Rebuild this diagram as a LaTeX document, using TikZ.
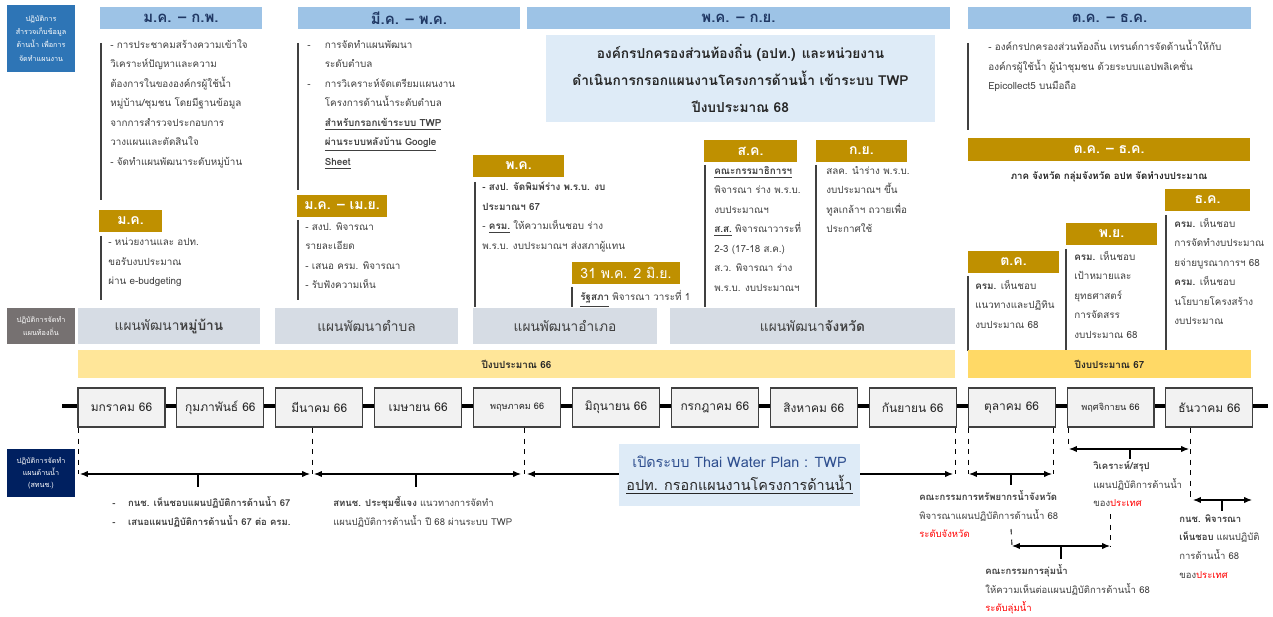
\documentclass[tikz,border=0pt]{standalone}
\usepackage{fontspec}
\setmainfont[Script=Thai]{Loma}
\usetikzlibrary{arrows.meta}

\definecolor{hdrblue}{HTML}{9DC3E6}
\definecolor{hdrtext}{HTML}{203864}
\definecolor{goldc}{HTML}{BF9000}
\definecolor{descbg}{HTML}{DEEBF7}
\definecolor{planbg}{HTML}{D6DCE4}
\definecolor{yelA}{HTML}{FFE699}
\definecolor{yelB}{HTML}{FFD966}
\definecolor{monthbg}{HTML}{F2F2F2}
\definecolor{monthline}{HTML}{404040}
\definecolor{labA}{HTML}{2E75B6}
\definecolor{labB}{HTML}{767171}
\definecolor{labC}{HTML}{002060}
\definecolor{bodytxt}{HTML}{404040}
\definecolor{darktxt}{HTML}{262626}
\definecolor{twpblue}{HTML}{2F4F8F}

\tikzset{
	hdr/.style={fill=hdrblue,text=hdrtext,inner sep=0,minimum height=0.44cm,font=\bfseries\fontsize{8.5}{10}\selectfont},
	goldhdr/.style={fill=goldc,text=white,inner sep=0,minimum height=0.44cm,font=\bfseries\fontsize{8}{10}\selectfont},
	body/.style={anchor=north west,align=left,inner sep=0,text=bodytxt,font=\fontsize{5.6}{11.1}\selectfont,execute at begin node=\strut},
	foot/.style={anchor=north west,align=left,inner sep=0,text=bodytxt,font=\fontsize{5.4}{10.6}\selectfont,execute at begin node=\strut},
	vbar/.style={draw=monthline,line width=0.7pt},
	plan/.style={fill=planbg,text=bodytxt,inner sep=0,minimum height=0.72cm,font=\fontsize{7.8}{10}\selectfont},
	yearbar/.style={inner sep=0,minimum height=0.56cm,text=darktxt,font=\bfseries\fontsize{5.6}{8}\selectfont},
	month/.style={draw=monthline,fill=monthbg,line width=0.6pt,minimum width=1.74cm,minimum height=0.78cm,inner sep=0,text=darktxt},
	sidelab/.style={text=white,inner sep=0,align=center,minimum width=1.36cm,font=\fontsize{4.1}{7.5}\selectfont},
	span/.style={<->,line width=0.6pt},
	guide/.style={dashed,line width=0.5pt},
}

\begin{document}
\begin{tikzpicture}[x=0.02cm,y=-0.02cm,>={Latex[length=4.5pt,width=3.6pt]}]
	\useasboundingbox (0,0) rectangle (1273,617);
	\fill[white] (0,0) rectangle (1273,617);

	% side labels
	\node[sidelab,fill=labA,minimum height=1.34cm] (labsurvey) at (41,38.5) {ปฏิบัติการ\\สำรวจเก็บข้อมูล\\ด้านน้ำ เพื่อการ\\จัดทำแผนงาน};
	\node[sidelab,fill=labB,minimum height=0.72cm] (lablocal) at (41,326) {ปฏิบัติการจัดทำ\\แผนท้องถิ่น};
	\node[sidelab,fill=labC,minimum height=0.96cm,font=\fontsize{4.1}{6.8}\selectfont] (labwater) at (41,473) {ปฏิบัติการจัดทำ\\แผนด้านน้ำ\\(สทนช.)};

	% period headers
	\node[hdr,minimum width=3.24cm] (hjanfeb) at (181,18) {ม.ค. – ก.พ.};
	\node[hdr,minimum width=4.44cm] (hmarmay) at (409,18) {มี.ค. – พ.ค.};
	\node[hdr,minimum width=8.48cm] (hmaysep) at (738.5,18) {พ.ค. – ก.ย.};
	\node[hdr,minimum width=5.66cm] (hoctdec) at (1109.5,18) {ต.ค. – ธ.ค.};

	\node[fill=descbg,text=darktxt,inner sep=0,align=center,minimum width=7.78cm,minimum height=1.74cm,font=\bfseries\fontsize{7.8}{15.3}\selectfont] (desc) at (740.5,78.5)
		{องค์กรปกครองส่วนท้องถิ่น (อปท.) และหน่วยงาน\\ดำเนินการกรอกแผนงานโครงการด้านน้ำ เข้าระบบ TWP\\ปีงบประมาณ 68};

	% gold headers
	\node[goldhdr,minimum width=1.26cm] (gjan) at (130.5,221) {ม.ค.};
	\node[goldhdr,minimum width=1.8cm] (gjanapr) at (342,206) {ม.ค. – เม.ย.};
	\node[goldhdr,minimum width=1.82cm] (gmay) at (518.5,166) {พ.ค.};
	\node[goldhdr,minimum width=2.16cm,font=\fontsize{8}{10}\selectfont] (gmayjun) at (626,273) {31 พ.ค. 2 มิ.ย.};
	\node[goldhdr,minimum width=1.86cm] (gaug) at (750.5,151) {ส.ค.};
	\node[goldhdr,minimum width=1.82cm] (gsep) at (861.5,151) {ก.ย.};
	\node[goldhdr,minimum width=5.64cm,minimum height=0.46cm] (goctdec) at (1109,149.5) {ต.ค. – ธ.ค.};
	\node[goldhdr,minimum width=1.7cm] (gdec) at (1207.5,200) {ธ.ค.};
	\node[goldhdr,minimum width=1.82cm] (gnov) at (1111.5,234) {พ.ย.};
	\node[goldhdr,minimum width=1.82cm] (goct) at (1013.5,262) {ต.ค.};

	% column texts
	\draw[vbar] (101,43) -- (101,200);
	\node[body] (tjanfeb) at (110,39) {- การประชาคมสร้างความเข้าใจ\\วิเคราะห์ปัญหาและความ\\ต้องการในขององค์กรผู้ใช้น้ำ\\หมู่บ้าน/ชุมชน โดยมีฐานข้อมูล\\จากการสำรวจประกอบการ\\วางแผนและตัดสินใจ\\- จัดทำแผนพัฒนาระดับหมู่บ้าน};
	\draw[vbar] (101,236) -- (101,300);
	\node[body] (tjan) at (108,238) {- หน่วยงานและ อปท.\\ขอรับงบประมาณ\\ผ่าน e-budgeting};

	\draw[vbar] (298,43) -- (298,190);
	\node[body] (tmarmay) at (307,40) {\makebox[10pt][l]{-}การจัดทำแผนพัฒนา\\
		\hspace*{10pt}ระดับตำบล\\
		\makebox[10pt][l]{-}การวิเคราะห์จัดเตรียมแผนงาน\\
		\hspace*{10pt}โครงการด้านน้ำระดับตำบล\\
		\hspace*{10pt}\textbf{\underline{สำหรับกรอกเข้าระบบ TWP}}\\
		\hspace*{10pt}\textbf{\underline{ผ่านระบบหลังบ้าน Google}}\\
		\hspace*{10pt}\textbf{\underline{Sheet}}};
	\draw[vbar] (298,220) -- (298,300);
	\node[body] (tjanapr) at (305,222) {- สงป. พิจารณา\\รายละเอียด\\- เสนอ ครม. พิจารณา\\- รับฟังความเห็น};

	\draw[vbar] (475,182) -- (475,307);
	\node[body] (tmay) at (482,182) {\textbf{- สงป. จัดพิมพ์ร่าง พ.ร.บ. งบ}\\\textbf{ประมาณฯ 67}\\- \textbf{\underline{ครม.}} ให้ความเห็นชอบ ร่าง\\พ.ร.บ. งบประมาณฯ ส่งสภาผู้แทน};
	\draw[vbar] (572,287) -- (572,307);
	\node[body] (tmayjun) at (580,287) {\textbf{\underline{รัฐสภา}} พิจารณา วาระที่ 1};

	\draw[vbar] (705,165) -- (705,307);
	\node[body] (taug) at (714,166) {\textbf{\underline{คณะกรรมาธิการฯ}}\\พิจารณา ร่าง พ.ร.บ.\\งบประมาณฯ\\\textbf{\underline{ส.ส.}} พิจารณาวาระที่\\2-3 (17-18 ส.ค.)\\ส.ว. พิจารณา ร่าง\\พ.ร.บ. งบประมาณฯ};
	\draw[vbar] (816,165) -- (816,307);
	\node[body] (tsep) at (826,166) {สลค. นำร่าง พ.ร.บ.\\งบประมาณฯ ขึ้น\\ทูลเกล้าฯ ถวายเพื่อ\\ประกาศใช้};

	\draw[vbar] (968,43) -- (968,130);
	\node[body] (toctdec) at (988,40) {- องค์กรปกครองส่วนท้องถิ่น เทรนด์การจัดด้านน้ำให้กับ\\องค์กรผู้ใช้น้ำ ผู้นำชุมชน ด้วยระบบแอปพลิเคชั่น\\Epicollect5 บนมือถือ};
	\node[inner sep=0,text=darktxt,font=\bfseries\fontsize{5.5}{8}\selectfont] (tregion) at (1109,177) {ภาค จังหวัด กลุ่มจังหวัด อปท จัดทำงบประมาณ};

	\draw[vbar] (968,276) -- (968,351);
	\node[body] (toct) at (975,280) {\textbf{ครม.} เห็นชอบ\\แนวทางและปฏิทิน\\งบประมาณ 68};
	\draw[vbar] (1066,249) -- (1066,351);
	\node[body] (tnov) at (1074,251) {\textbf{ครม.} เห็นชอบ\\เป้าหมายและ\\ยุทธศาสตร์\\การจัดสรร\\งบประมาณ 68};
	\draw[vbar] (1166,215) -- (1166,351);
	\node[body] (tdec) at (1174,218) {\textbf{ครม.} เห็นชอบ\\การจัดทำงบประมาณ\\ยจ่ายบูรณาการฯ 68\\\textbf{ครม.} เห็นชอบ\\นโยบายโครงสร้าง\\งบประมาณ};

	% plan bars and fiscal years
	\node[plan,minimum width=3.64cm] (pvillage) at (169,326) {แผนพัฒนา\textbf{หมู่บ้าน}};
	\node[plan,minimum width=3.66cm] (psubdist) at (366.5,326) {แผนพัฒนาตำบล};
	\node[plan,minimum width=3.68cm] (pdistrict) at (565,326) {แผนพัฒนาอำเภอ};
	\node[plan,minimum width=5.7cm] (pprovince) at (812.5,326) {แผนพัฒนา\textbf{จังหวัด}};
	\node[yearbar,fill=yelA,minimum width=17.54cm] (fy66) at (516.5,364) {ปีงบประมาณ 66};
	\node[yearbar,fill=yelB,minimum width=5.66cm] (fy67) at (1109.5,364) {ปีงบประมาณ 67};

	% timeline
	\draw[line width=1.8pt] (62,406) -- (1268,406);
	\foreach \mname/\mfs [count=\i] in {มกราคม 66/6.8,กุมภาพันธ์ 66/6.8,มีนาคม 66/6.8,เมษายน 66/6.8,พฤษภาคม 66/5.2,มิถุนายน 66/6.8,กรกฎาคม 66/6.8,สิงหาคม 66/6.8,กันยายน 66/6.8,ตุลาคม 66/6.8,พฤศจิกายน 66/5.2,ธันวาคม 66/6.8}
		\node[month,font=\fontsize{\mfs}{10}\selectfont] (m\i) at (121.5+98.9*\i-98.9,407.5) {\mname};

	% guides from months
	\foreach \gx/\gy in {78/474,312/474,524/474,955/474,968/474,1053/474,1068/449,1190/500}
		\draw[guide] (\gx,428) -- (\gx,\gy);

	% spans
	\coordinate (sa1) at (80,474); \coordinate (sa2) at (310,474);
	\coordinate (sb1) at (314,474); \coordinate (sb2) at (521,474);
	\coordinate (sc1) at (527,474); \coordinate (sc2) at (953,474);
	\coordinate (sd1) at (969,474); \coordinate (sd2) at (1052,474);
	\coordinate (se1) at (1069,449); \coordinate (se2) at (1189,449);
	\coordinate (sf1) at (1012,546); \coordinate (sf2) at (1110,546);
	\coordinate (sg1) at (1193,500); \coordinate (sg2) at (1252,500);
	\foreach \s in {a,b,c,d,e,f,g}
		\draw[span] (s\s1) -- (s\s2);
	\draw[line width=0.6pt] (198,474) -- (198,487);
	\draw[line width=0.6pt] (416,474) -- (416,487);
	\draw[line width=0.6pt] (1011,474) -- (1011,485);
	\draw[line width=0.6pt] (1130,449) -- (1130,459);
	\draw[line width=0.6pt] (1061,546) -- (1061,559);
	\draw[line width=0.6pt] (1222,500) -- (1222,511);
	\draw[guide] (1110,514) -- (sf2);
	\draw[guide] (1011,529) -- (sf1);

	\node[fill=descbg,inner sep=0,align=center,minimum width=4.82cm,minimum height=1.24cm,font=\fontsize{8.2}{13.5}\selectfont] (twp) at (739.5,475)
		{\textcolor{twpblue}{เปิดระบบ Thai Water Plan : TWP}\\\textcolor{darktxt}{\underline{อปท. กรอกแผนงานโครงการด้านน้ำ}}};

	% footer texts
	\node[foot,font=\bfseries\fontsize{5.4}{10.6}\selectfont] (fa) at (112,496) {\makebox[9pt][l]{-}กนช. เห็นชอบแผนปฏิบัติการด้านน้ำ 67\\\makebox[9pt][l]{-}เสนอแผนปฏิบัติการด้านน้ำ 67 ต่อ ครม.};
	\node[foot] (fb) at (333,496) {\textbf{สทนช. ประชุมชี้แจง} แนวทางการจัดทำ\\แผนปฏิบัติการด้านน้ำ ปี 68 ผ่านระบบ TWP};
	\node[foot] (fd) at (919,490) {\textbf{คณะกรรมการทรัพยากรน้ำจังหวัด}\\พิจารณาแผนปฏิบัติการด้านน้ำ 68\\\textcolor{red}{ระดับจังหวัด}};
	\node[foot] (fe) at (1093,461) {\textbf{วิเคราะห์/สรุป}\\แผนปฏิบัติการด้านน้ำ\\ของ\textcolor{red}{ประเทศ}};
	\node[foot] (ff) at (985,564) {\textbf{คณะกรรมการลุ่มน้ำ}\\ให้ความเห็นต่อแผนปฏิบัติการด้านน้ำ 68\\\textcolor{red}{ระดับลุ่มน้ำ}};
	\node[foot] (fg) at (1179,514) {\textbf{กนช. พิจารณา}\\\textbf{เห็นชอบ} แผนปฏิบัติ\\การด้านน้ำ 68\\ของ\textcolor{red}{ประเทศ}};
\end{tikzpicture}
\end{document}
